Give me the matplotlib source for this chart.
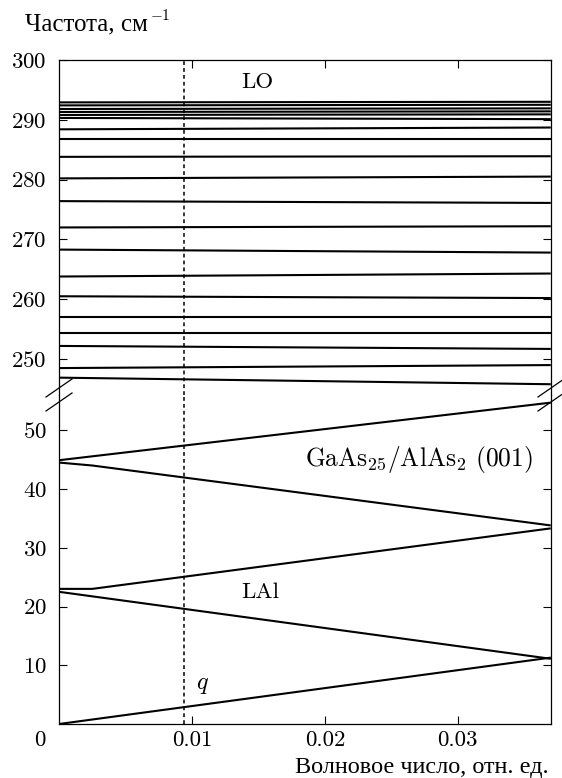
import matplotlib
matplotlib.use("Agg")
import matplotlib.pyplot as plt
from matplotlib.lines import Line2D

plt.rcParams['font.family'] = ['cmr10', 'Liberation Serif']
plt.rcParams['mathtext.fontset'] = 'cm'
plt.rcParams['axes.unicode_minus'] = False
plt.rcParams['axes.formatter.use_mathtext'] = True

# x range and dotted marker position
x_max = 0.037
q_mark = 0.0094

# upper panel (LO modes): frequency at left and right end
lo_left = [292.9, 292.4, 291.8, 291.3, 290.8, 290.3, 288.4, 286.7, 283.8, 280.2,
           276.4, 272.0, 268.3, 263.8, 260.5, 257.0, 254.3, 252.2, 248.5, 246.9]
lo_right = [293.0, 292.5, 291.9, 291.4, 290.9, 290.1, 288.7, 286.7, 283.9, 280.5,
            276.1, 272.2, 267.8, 264.3, 260.2, 257.0, 254.3, 251.7, 249.0, 245.8]

# lower panel (folded acoustic branches)
la_x = [
    [0, 0.037],
    [0, 0.037],
    [0, 0.0025, 0.037],
    [0, 0.0025, 0.037],
    [0, 0.037],
]
la_y = [
    [0, 11.3],
    [22.5, 11.1],
    [23.0, 23.0, 33.3],
    [44.5, 44.0, 33.8],
    [44.9, 54.7],
]

top_ticks = [250, 260, 270, 280, 290, 300]
bot_ticks = [10, 20, 30, 40, 50]
x_ticks = [0.01, 0.02, 0.03]

FS = 16.5

fig = plt.figure(figsize=(5.62, 7.78), dpi=100)
L, R = 0.105, 0.980
mid = 1 - 395 / 778
ax1 = fig.add_axes([L, mid, R - L, 0.923 - mid])
ax2 = fig.add_axes([L, 0.0694, R - L, mid - 0.0694])

for a, b in zip(lo_left, lo_right):
    ax1.plot([0, x_max], [a, b], color='black', lw=1.5, solid_capstyle='butt')
for xs, ys in zip(la_x, la_y):
    ax2.plot(xs, ys, color='black', lw=1.5, solid_capstyle='butt')

for ax in (ax1, ax2):
    ax.axvline(q_mark, color='black', lw=1.1, ls=(0, (2.5, 2.0)))
    ax.set_xlim(0, x_max)
    ax.set_xticks(x_ticks)
    ax.tick_params(direction='in', length=6, width=0.8, labelsize=FS,
                   top=True, right=True, pad=9)
    for s in ax.spines.values():
        s.set_linewidth(0.9)

ax1.set_ylim(244.0, 300)
ax1.set_yticks(top_ticks)
ax1.spines['bottom'].set_visible(False)
ax1.tick_params(axis='x', bottom=False, labelbottom=False)

ax2.set_ylim(0, 56.0)
ax2.set_yticks(bot_ticks)
ax2.spines['top'].set_visible(False)
ax2.tick_params(axis='x', top=False, pad=5)
ax2.set_xticklabels(['0.01', '0.02', '0.03'])

# break marks on both spines
W, H = 562, 778
for px in (59, 551):
    for py in (397, 411):
        fig.add_artist(Line2D([(px - 13) / W, (px + 13) / W],
                              [1 - py / H, 1 - (py - 18) / H],
                              color='black', lw=0.9))

ax1.text(0.0149, 296.2, 'LO', fontsize=FS, ha='center', va='center')
ax2.text(0.0185, 45.0, r'GaAs$_{25}$/AlAs$_2$ (001)', fontsize=FS + 1.8,
         ha='left', va='center')
ax2.text(0.0137, 22.5, 'LAl', fontsize=FS, ha='left', va='center')
ax2.text(0.0103, 6.6, r'$q$', fontsize=FS + 1, ha='left', va='center')

ylab = fig.text(25 / W, 1 - 24 / H, 'Частота, см', fontsize=18,
                family='Liberation Serif', ha='left', va='center')
fig.canvas.draw()
bb = ylab.get_window_extent(renderer=fig.canvas.get_renderer())
fig.text((bb.x1 + 2) / W, 1 - 15 / H, r'$-1$', fontsize=11,
         ha='left', va='center')
fig.text(549 / W, 1 - 767 / H, 'Волновое число, отн. ед.', fontsize=17.5,
         family='Liberation Serif', ha='right', va='center')
fig.text(40 / W, 1 - 740 / H, '0', fontsize=FS, ha='center', va='center')

fig.savefig('out.png', dpi=100)
